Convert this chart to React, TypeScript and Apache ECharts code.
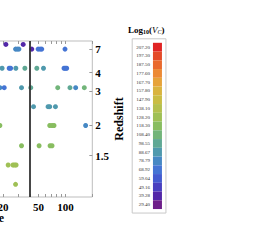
import React, { useEffect, useRef } from "react";
import * as echarts from "echarts";

// ---- data ----
const rowRedshifts = [8.3, 7.0, 4.35, 3.15, 2.46, 2.0, 1.64, 1.38, 1.17];
const rowScales = [
  [21.6, 33.7],
  [27.7, 28.9, 30.2, 42.1, 49.5, 52.1, 54.4, 99.0],
  [19.6, 23.5, 24.4, 27.9, 35.2, 47.9, 56.9, 96.5, 100, 103.4],
  [18.5, 20.7, 32.3, 41.0, 82.1, 112.5, 130.3, 162.8],
  [44.0, 64.0, 66.8, 77.4],
  [18.5, 66.8, 70.9, 74.6, 168.4],
  [32.3, 50.8, 67.4, 70.9],
  [22.9, 25.9, 27.0, 28.1],
  [27.7],
];
const rowVc = [
  [37, 40],
  [74, 74, 74, 42, 72, 72, 72, 70],
  [86, 70, 70, 86, 102, 102, 88, 68, 68, 68],
  [74, 72, 92, 95, 106, 103, 82, 106],
  [84, 84, 84, 84],
  [116, 116, 116, 116, 80],
  [116, 116, 116, 116],
  [132, 132, 132, 132],
  [132],
];
const redshiftTicks = [7, 4, 3, 2, 1.5];
const scaleTickLabels = [20, 50, 100];
const scaleMinorTicks = [10, 20, 30, 40, 50, 60, 70, 80, 90, 100, 200];
const cutScale = 40;
const cbLabels = [207.2, 197.3, 187.5, 177.6, 167.7, 157.8, 147.9, 138.1, 128.2, 118.3, 108.4, 98.55, 88.67, 78.79, 68.92, 59.04, 49.16, 39.28, 29.4];
const cbColors = [
  "#e02424", "#e44a28", "#e96a2e", "#ec8a35", "#e6a33a", "#d9b43f", "#c9bd44",
  "#b4c04e", "#9fc055", "#88bd60", "#72b57a", "#5fa894", "#4f99ad", "#4688c4",
  "#4474d4", "#435bd0", "#4840c0", "#5227a8", "#6e1f8a",
];

// cosmic age (Gyr) for flat LCDM, H0=70, Om=0.3
function age(z: number): number {
  const Om = 0.3, OL = 0.7, tH = 977.8 / 70;
  return ((2 / 3) * tH / Math.sqrt(OL)) * Math.asinh(Math.sqrt(OL / Om) * Math.pow(1 + z, -1.5));
}

const SERIF = "Liberation Serif, DejaVu Serif, serif";
const OFF = 40; // container shifted left

export default function App() {
  const ref = useRef<HTMLDivElement>(null);
  useEffect(() => {
    if (!ref.current) return;
    const chart = echarts.init(ref.current, undefined, { renderer: "svg" });
    const data: number[][] = [];
    rowRedshifts.forEach((z, r) => {
      rowScales[r].forEach((s, i) => data.push([s, age(z), rowVc[r][i]]));
    });
    const tickAges = redshiftTicks.map(age);
    const step = (cbLabels[0] - cbLabels[cbLabels.length - 1]) / (cbLabels.length - 1);
    chart.setOption({
      animation: false,
      grid: { left: 16, right: 305 - (92.3 + OFF), top: 41, bottom: 252 - 197, show: true, borderColor: "#bdbdbd", borderWidth: 1 },
      xAxis: [
        {
          type: "log", min: 10, max: 200, logBase: 10,
          axisLine: { show: false }, splitLine: { show: false },
          axisTick: { show: true, inside: true, length: 3, customValues: scaleMinorTicks, lineStyle: { color: "#999" } },
          axisLabel: { customValues: scaleTickLabels, fontFamily: SERIF, fontWeight: "bold", fontSize: 11, color: "#000", margin: 4 },
        },
        {
          type: "log", min: 10, max: 200, position: "top",
          axisLine: { show: false }, splitLine: { show: false },
          axisTick: { show: true, inside: true, length: 3, customValues: scaleMinorTicks, lineStyle: { color: "#999" } },
          axisLabel: { show: false },
        },
      ],
      yAxis: [
        {
          type: "value", position: "right", inverse: true, min: 0.488, max: 5.545,
          axisLine: { show: false }, splitLine: { show: false },
          axisTick: { show: true, inside: true, length: 3, customValues: tickAges, lineStyle: { color: "#999" } },
          axisLabel: {
            customValues: tickAges, fontFamily: SERIF, fontWeight: "bold", fontSize: 11, color: "#000", margin: 3,
            formatter: (v: number) => {
              let best = 0;
              tickAges.forEach((a, i) => { if (Math.abs(a - v) < Math.abs(tickAges[best] - v)) best = i; });
              return String(redshiftTicks[best]);
            },
          },
          name: "Redshift", nameLocation: "middle", nameRotate: 90, nameGap: 15,
          nameTextStyle: { fontFamily: SERIF, fontWeight: "bold", fontSize: 12, color: "#000" },
        },
      ],
      visualMap: {
        type: "piecewise", dimension: 2, seriesIndex: 0, orient: "vertical",
        left: 131.7 + OFF, top: 38.3,
        pieces: cbLabels.map((v, i) => ({ gte: v - step / 2, lt: v + step / 2, label: v.toFixed(2), color: cbColors[i] })),
        itemWidth: 9, itemHeight: 8.75, itemGap: 0, itemSymbol: "rect",
        textGap: 3, itemSymbolGap: 3,
        padding: [4, 4, 4, 4],
        borderColor: "#c8c8c8", borderWidth: 1, backgroundColor: "#fff",
        textStyle: { fontSize: 5, color: "#333", fontFamily: SERIF },
        selectedMode: false, hoverLink: false,
      },
      graphic: [
        {
          type: "text", left: 128 + OFF, top: 25,
          style: {
            text: "{b|Log}{s|10}{b|(}{i|V}{si|C}{b|)}",
            rich: {
              b: { fontFamily: SERIF, fontWeight: "bold", fontSize: 9, color: "#000" },
              s: { fontFamily: SERIF, fontWeight: "bold", fontSize: 6, color: "#000", padding: [4, 0, 0, 0] },
              i: { fontFamily: SERIF, fontStyle: "italic", fontSize: 9, color: "#000" },
              si: { fontFamily: SERIF, fontStyle: "italic", fontSize: 6, color: "#000", padding: [4, 0, 0, 0] },
            },
          },
        },
        {
          type: "text", right: 305 - (4 + OFF), top: 212,
          style: { text: "Scale", fontFamily: SERIF, fontWeight: "bold", fontSize: 12, fill: "#000" },
        },
      ],
      series: [
        {
          type: "scatter", data, symbolSize: 5, xAxisIndex: 0, yAxisIndex: 0,
          itemStyle: { opacity: 1 },
          markLine: {
            silent: true, symbol: "none", label: { show: false },
            lineStyle: { color: "#333", width: 1.8, type: "solid" },
            data: [{ xAxis: cutScale }],
          },
        },
      ],
    });
    return () => chart.dispose();
  }, []);
  return <div ref={ref} style={{ position: "absolute", left: -OFF, top: 0, width: 265 + OFF, height: 252 }} />;
}
